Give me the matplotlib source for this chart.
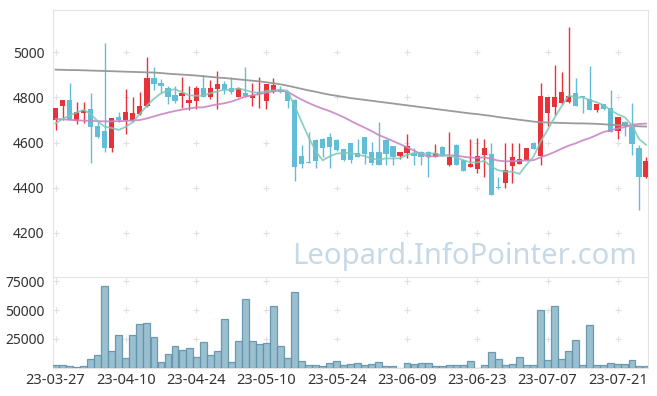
import numpy as np
import matplotlib
matplotlib.use("Agg")
import matplotlib.pyplot as plt

plt.rcParams['font.family'] = ['Noto Sans', 'DejaVu Sans']

dates = ["23-03-27","23-03-28","23-03-29","23-03-30","23-03-31",
         "23-04-03","23-04-04","23-04-05","23-04-06","23-04-07",
         "23-04-10","23-04-11","23-04-12","23-04-13","23-04-14",
         "23-04-17","23-04-18","23-04-19","23-04-20","23-04-21",
         "23-04-24","23-04-25","23-04-26","23-04-27","23-04-28",
         "23-05-02","23-05-03","23-05-04","23-05-08","23-05-09",
         "23-05-10","23-05-11","23-05-12","23-05-15","23-05-16",
         "23-05-17","23-05-18","23-05-19","23-05-22","23-05-23",
         "23-05-24","23-05-25","23-05-26","23-05-30","23-05-31",
         "23-06-01","23-06-02","23-06-05","23-06-07","23-06-08",
         "23-06-09","23-06-12","23-06-13","23-06-14","23-06-15",
         "23-06-16","23-06-19","23-06-20","23-06-21","23-06-22",
         "23-06-23","23-06-26","23-06-27","23-06-28","23-06-29",
         "23-06-30","23-07-03","23-07-04","23-07-05","23-07-06",
         "23-07-07","23-07-10","23-07-11","23-07-12","23-07-13",
         "23-07-14","23-07-17","23-07-18","23-07-19","23-07-20",
         "23-07-21","23-07-24","23-07-25","23-07-26","23-07-27"]

opens = [4700,4760,4790,4697,4733,4750,4675,4652,4578,4714,
         4700,4697,4725,4760,4888,4866,4843,4811,4808,4774,
         4786,4840,4801,4838,4859,4842,4803,4818,4799,4815,
         4786,4823,4834,4826,4789,4540,4514,4612,4616,4624,
         4612,4571,4597,4553,4624,4560,4559,4612,4585,4541,
         4556,4553,4560,4560,4538,4582,4501,4590,4523,4494,
         4482,4545,4550,4403,4420,4497,4506,4523,4599,4541,
         4733,4759,4774,4781,4819,4804,4792,4745,4771,4752,
         4653,4689,4667,4574,4447]
highs = [4755,4790,4863,4780,4780,4818,4690,5040,4710,4734,
         4838,4801,4823,4978,4934,4880,4851,4852,4889,4851,
         4851,4898,4877,4917,4874,4889,4845,4936,4863,4892,
         4860,4885,4852,4830,4792,4590,4649,4615,4620,4644,
         4615,4573,4600,4618,4626,4604,4693,4614,4587,4560,
         4637,4575,4562,4562,4594,4584,4646,4592,4525,4614,
         4622,4618,4597,4447,4599,4599,4597,4577,4601,4863,
         4803,4944,4914,5111,4885,4806,4938,4773,4773,4835,
         4714,4694,4777,4590,4538]
lows = [4655,4700,4700,4683,4686,4509,4620,4560,4557,4690,
        4637,4690,4720,4758,4833,4818,4772,4775,4752,4745,
        4748,4800,4792,4748,4814,4814,4800,4803,4764,4752,
        4749,4820,4820,4752,4432,4487,4508,4487,4538,4487,
        4565,4520,4511,4536,4505,4501,4499,4501,4501,4526,
        4531,4501,4501,4447,4536,4540,4497,4499,4473,4491,
        4464,4447,4366,4395,4398,4420,4504,4521,4571,4501,
        4674,4722,4772,4774,4762,4730,4745,4737,4746,4649,
        4614,4627,4545,4302,4445]
closes = [4755,4790,4700,4735,4743,4668,4626,4578,4708,4702,
          4735,4731,4762,4885,4860,4850,4800,4786,4821,4790,
          4840,4801,4841,4858,4834,4823,4842,4805,4811,4823,
          4860,4855,4823,4786,4494,4505,4510,4520,4578,4582,
          4567,4523,4523,4538,4550,4511,4501,4550,4535,4557,
          4585,4542,4538,4538,4556,4542,4538,4501,4475,4505,
          4541,4575,4368,4397,4479,4537,4526,4575,4573,4807,
          4801,4801,4826,4807,4764,4801,4745,4771,4748,4649,
          4712,4680,4593,4447,4519]
volumes = [1900,1900,1300,300,1500,7100,10900,70700,14100,28000,
           8000,28000,37600,38500,26300,4500,11500,18500,15000,16700,
           8900,21900,10600,14100,42000,4500,22800,59400,22800,20200,
           21000,53300,18500,8000,65500,5400,1900,1900,1300,3600,
           5400,1900,2800,3600,1900,2800,4500,1300,1300,0,
           3600,2800,3600,3600,1000,1000,1900,1900,1900,5400,
           0,1900,13200,7100,1900,2800,8900,1900,1900,49800,
           6300,53300,7100,14100,23700,1900,36700,1900,1900,3600,
           2800,2800,6300,1000,1000]

# moving-average values before enough history is visible
ma5_head = [4685, 4705, 4720, 4733]
ma20_head = [4705,4703,4701,4699,4697,4696,4695,4694,4694,4695,
             4696,4698,4700,4707,4716,4725,4733,4740,4746]
ma60 = [4923,4922,4921,4921,4920,4919,4918,4917,4916,4915,
        4914,4913,4912,4911,4910,4908,4905,4903,4901,4899,
        4897,4894,4891,4888,4886,4883,4880,4877,4874,4871,
        4867,4863,4858,4852,4845,4838,4831,4825,4818,4812,
        4807,4802,4797,4793,4789,4785,4781,4777,4773,4769,
        4765,4761,4757,4753,4749,4745,4741,4737,4733,4729,
        4726,4722,4718,4713,4709,4705,4701,4697,4693,4690,
        4689,4688,4687,4686,4685,4685,4684,4683,4681,4679,
        4677,4676,4674,4672,4671]

tick_idx = [0, 10, 20, 30, 40, 50, 60, 70, 80]
price_ticks = [4200, 4400, 4600, 4800, 5000]
vol_ticks = [25000, 50000, 75000]

c = np.array(closes, float)
n = len(c)
ma5 = np.array(ma5_head + [c[i-4:i+1].mean() for i in range(4, n)])
ma20 = np.array(ma20_head + [c[i-19:i+1].mean() for i in range(19, n)])
x = np.arange(n)

UP = '#e8323a'
DOWN = '#62bdd6'
GRID = '#e0e0e0'
SPINE = '#e3e3e3'
TXT = '#333333'

fig = plt.figure(figsize=(6.57, 3.96), dpi=100)
ax = fig.add_axes([53/657, 1-277/396, 595/657, 267/396])
axv = fig.add_axes([53/657, 1-367.5/396, 595/657, 90.5/396], sharex=ax)

xl = (-0.36, 84.28)

# candles
w = 0.74
for i in range(n):
    o, h, l, cl = opens[i], highs[i], lows[i], closes[i]
    col = UP if cl >= o else DOWN
    ax.vlines(i, l, h, color=col, linewidth=1.0, zorder=2)
    bottom = min(o, cl)
    height = max(abs(cl - o), 4)
    ax.bar(i, height, w, bottom=bottom, color=col, linewidth=0, zorder=3)

ax.plot(x, ma60, color='#9a9a9a', lw=1.3, zorder=4)
ax.plot(x, ma20, color='#c986c4', lw=1.3, alpha=0.9, zorder=4)
ax.plot(x, ma5, color='#7fc6ba', lw=1.3, alpha=0.85, zorder=5)

# grid crosses
gx, gy = np.meshgrid(tick_idx, price_ticks)
ax.scatter(gx.ravel(), gy.ravel(), marker='+', s=16, color=GRID, linewidths=0.8, zorder=1)

ax.set_xlim(*xl)
ax.set_ylim(4005, 5187)
ax.set_yticks(price_ticks)
ax.set_yticklabels([str(v) for v in price_ticks])
ax.tick_params(axis='y', length=0, pad=6, labelsize=10, labelcolor=TXT)
ax.tick_params(axis='x', length=0, labelbottom=False)
for s in ['top', 'left', 'right']:
    ax.spines[s].set_color(SPINE)
ax.spines['bottom'].set_visible(False)

ax.text(0.982, 0.05, 'Leopard.InfoPointer.com', transform=ax.transAxes,
        ha='right', va='baseline', fontsize=21, color='#c6d9e6', zorder=0)

# volume
axv.bar(x, volumes, 0.98, color='#8fb9cb', edgecolor='#5f93ac', linewidth=0.9, alpha=0.9, zorder=3)
vgx, vgy = np.meshgrid(tick_idx, vol_ticks)
axv.scatter(vgx.ravel(), vgy.ravel(), marker='+', s=16, color=GRID, linewidths=0.8, zorder=1)
axv.set_ylim(0, 78800)
axv.set_yticks(vol_ticks)
axv.set_yticklabels([str(v) for v in vol_ticks])
axv.set_xticks(tick_idx)
axv.set_xticklabels([dates[i] for i in tick_idx])
axv.tick_params(axis='y', length=0, pad=6, labelsize=10, labelcolor=TXT)
axv.tick_params(axis='x', length=0, pad=4, labelsize=10.5, labelcolor=TXT)
for s in ['top', 'left', 'right', 'bottom']:
    axv.spines[s].set_color(SPINE)
axv.set_xlim(*xl)

fig.savefig('out.png', dpi=100, facecolor='white')
